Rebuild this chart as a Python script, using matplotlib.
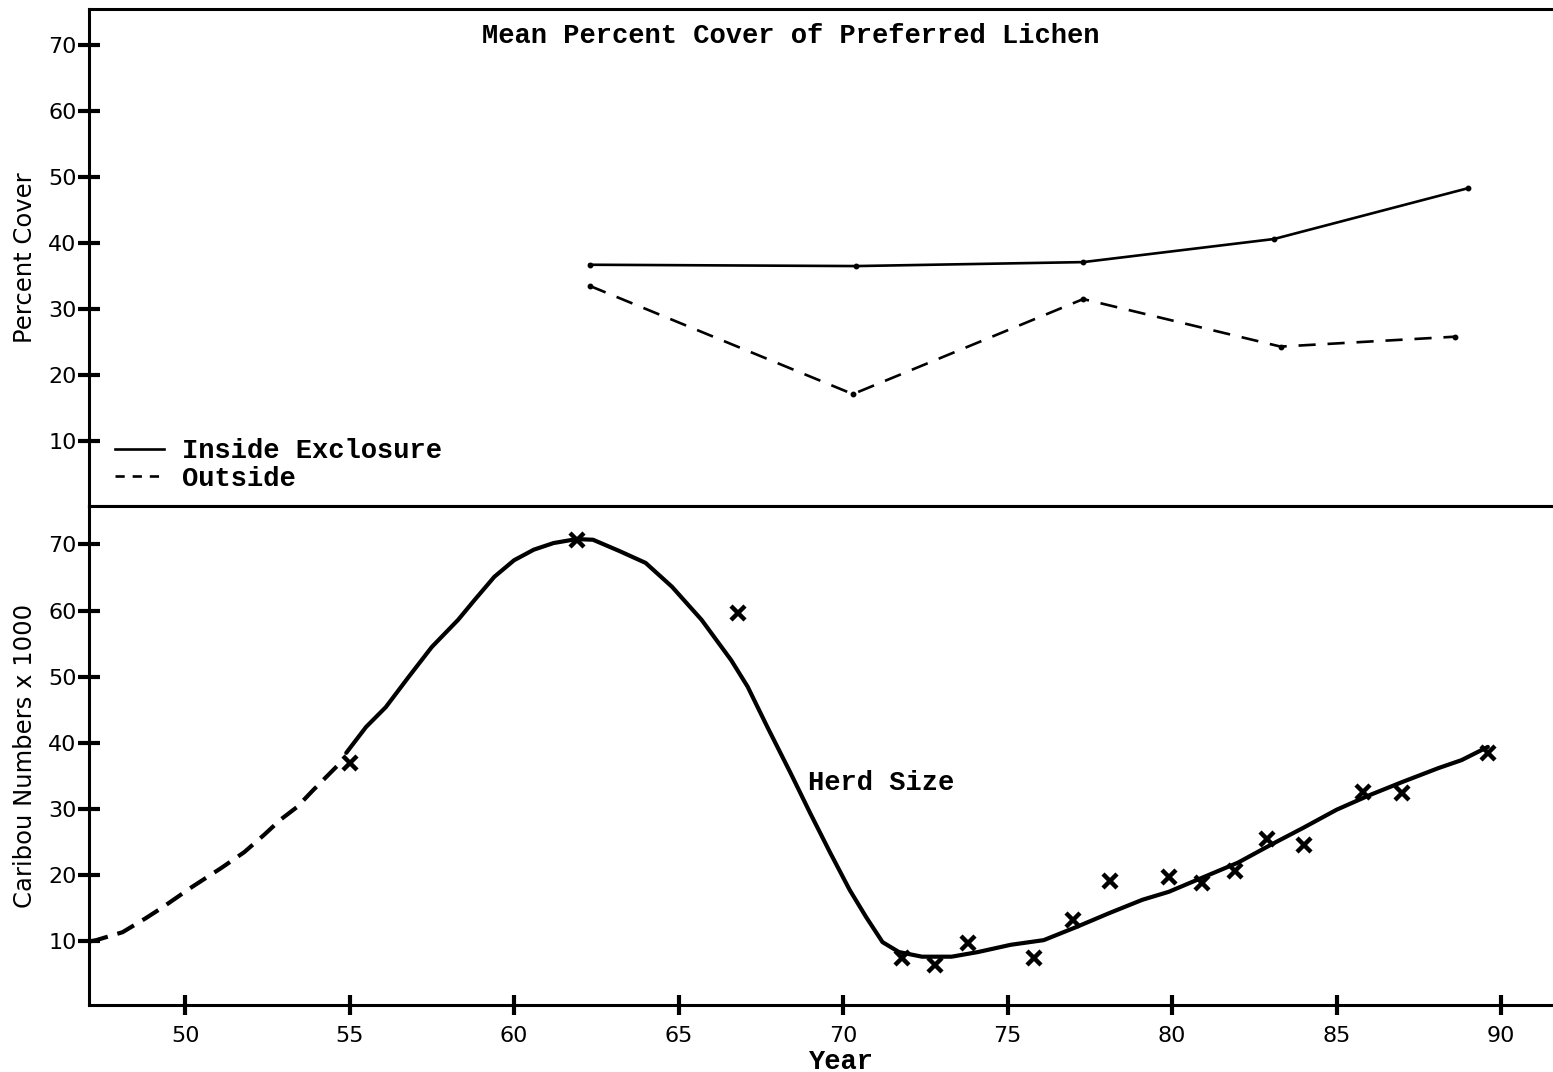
import matplotlib
matplotlib.use("Agg")
import matplotlib.pyplot as plt
from matplotlib.lines import Line2D

# ---------------- data ----------------
# Top panel: mean percent cover of preferred lichen
inside_years = [62.3, 70.4, 77.3, 83.1, 89.0]
inside_cover = [36.7, 36.5, 37.1, 40.6, 48.3]
outside_years = [62.3, 70.3, 77.3, 83.3, 88.6]
outside_cover = [33.5, 17.1, 31.5, 24.3, 25.8]

# Bottom panel: observed herd counts (x markers)
count_years = [55.0, 61.9, 66.8, 71.8, 72.8, 73.8, 75.8, 77.0, 78.1,
               79.9, 80.9, 81.9, 82.9, 84.0, 85.8, 87.0, 89.6]
count_values = [37.0, 70.7, 59.6, 7.5, 6.4, 9.8, 7.5, 13.2, 19.1,
                19.7, 18.8, 20.6, 25.5, 24.6, 32.6, 32.4, 38.5]

# Herd size curve: dashed (reconstructed) part and solid part
dash_years = [47.1, 47.3, 48.1, 48.8, 49.3, 50.2, 51.1, 51.8, 52.4,
              52.9, 53.4, 53.9, 54.5, 54.9]
dash_values = [10.0, 10.2, 11.4, 13.5, 15.1, 18.2, 21.1, 23.5, 26.1,
               28.4, 30.3, 32.9, 35.9, 37.9]
curve_years = [54.9, 55.5, 56.1, 56.8, 57.5, 58.3, 58.8, 59.4, 60.0,
               60.6, 61.2, 61.9, 62.4, 63.2, 64.0, 64.8, 65.7, 66.6,
               67.1, 67.7, 68.4, 69.0, 69.6, 70.2, 70.7, 71.2, 71.7,
               72.4, 73.3, 74.1, 75.1, 76.1, 77.1, 78.1, 79.1, 79.9,
               80.9, 82.0, 83.0, 84.0, 85.0, 86.0, 87.0, 88.1, 88.8, 89.6]
curve_values = [38.5, 42.4, 45.4, 50.0, 54.5, 58.6, 61.6, 65.1, 67.6,
                69.2, 70.2, 70.8, 70.7, 69.0, 67.2, 63.6, 58.6, 52.5,
                48.5, 42.4, 35.5, 29.4, 23.5, 17.8, 13.7, 9.9, 8.4,
                7.7, 7.7, 8.4, 9.5, 10.2, 12.2, 14.3, 16.3, 17.5,
                19.6, 21.9, 24.6, 27.2, 29.9, 32.1, 34.1, 36.2, 37.4, 39.4]

y_ticks = [10, 20, 30, 40, 50, 60, 70]
x_ticks = [50, 55, 60, 65, 70, 75, 80, 85, 90]
x_tick_labels = ["50", "55", "60", "65", "70", "75", "80", "85", "90"]

# ---------------- figure ----------------
W, H, DPI = 1553, 1072, 100
fig = plt.figure(figsize=(W / DPI, H / DPI), dpi=DPI)

mono = "Liberation Mono"
sans = "DejaVu Sans"
spine_w = 2.2
tick_fs = 16

left = 89 / W
ax_top = fig.add_axes([left, 1 - 506 / H, 1 - left, (506 - 9.3) / H])
ax_bot = fig.add_axes([left, 1 - 1005 / H, 1 - left, (1005 - 506) / H],
                      sharex=ax_top)

xlim = (47.08, 91.58)

for ax in (ax_top, ax_bot):
    ax.spines["right"].set_visible(False)
    for s in ("left", "top", "bottom"):
        ax.spines[s].set_linewidth(spine_w)
    ax.set_xlim(*xlim)
    ax.set_yticks(y_ticks)
    ax.set_yticklabels([str(t) for t in y_ticks], fontfamily=sans,
                       fontsize=tick_fs)
    ax.tick_params(axis="y", direction="inout", length=16, width=3.0,
                   pad=1)

# ---------- top panel ----------
ax_top.set_ylim(0.15, 75.4)
ax_top.tick_params(axis="x", bottom=False, labelbottom=False)
ax_top.plot(inside_years, inside_cover, color="black", lw=1.9,
            marker="o", ms=3.2, label="Inside Exclosure")
ax_top.plot(outside_years, outside_cover, color="black", lw=1.9,
            dashes=(6.5, 4.5), marker="o", ms=3.2, label="Outside")
ax_top.set_ylabel("Percent Cover", fontfamily=sans, fontsize=17.5,
                  labelpad=8)
ax_top.text(0.4795, 0.9457, "Mean Percent Cover of Preferred Lichen",
            transform=ax_top.transAxes, ha="center", va="center",
            fontfamily=mono, fontsize=19.5, fontweight="bold")

handles = [Line2D([], [], color="black", lw=1.9),
           Line2D([], [], color="black", lw=1.9, dashes=(3.5, 3))]
leg = ax_top.legend(handles, ["Inside Exclosure", "Outside"],
                    loc="lower left", bbox_to_anchor=(0.0067, -0.004),
                    frameon=False, handlelength=1.8, handletextpad=0.67,
                    labelspacing=0.05, borderaxespad=0.2,
                    prop={"family": mono, "size": 19.5, "weight": "bold"})

# ---------- bottom panel ----------
ax_bot.set_ylim(0.4, 75.8)
ax_bot.plot(dash_years, dash_values, color="black", lw=3.0,
            dashes=(4.5, 2.4), solid_capstyle="round")
ax_bot.plot(curve_years, curve_values, color="black", lw=3.0,
            solid_joinstyle="round", solid_capstyle="round")
ax_bot.plot(count_years, count_values, linestyle="none", marker="x",
            color="black", ms=10, mew=3.2)
ax_bot.text(68.94, 33.9, "Herd Size", ha="left", va="center",
            fontfamily=mono, fontsize=19.5, fontweight="bold")

ax_bot.set_xticks(x_ticks)
ax_bot.set_xticklabels(x_tick_labels, fontfamily=sans, fontsize=tick_fs)
ax_bot.tick_params(axis="x", direction="inout", length=14, width=3.0,
                   pad=8)
ax_bot.set_ylabel("Caribou Numbers x 1000", fontfamily=sans,
                  fontsize=17.5, labelpad=8)
ax_bot.set_xlabel("Year", fontfamily=mono, fontsize=19.5,
                  fontweight="bold", labelpad=0)
ax_bot.xaxis.set_label_coords((841 - 89) / (W - 89), -0.088)

fig.savefig("out.png", dpi=DPI, facecolor="white")
